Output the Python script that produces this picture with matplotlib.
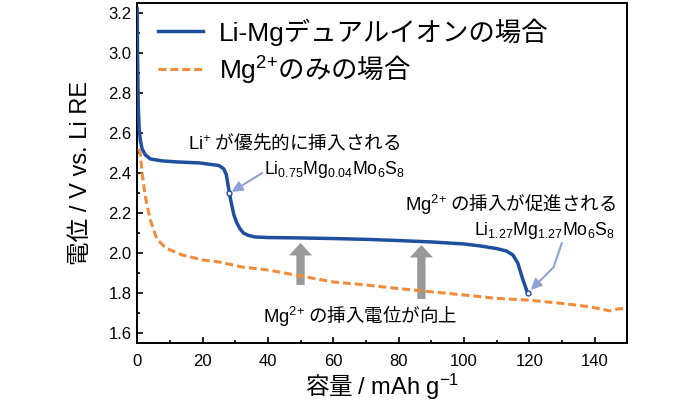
import matplotlib
matplotlib.use('Agg')
import matplotlib.pyplot as plt

# フォント設定
plt.rcParams['font.family'] = ['Liberation Sans', 'Noto Sans CJK JP']
plt.rcParams['mathtext.fontset'] = 'custom'
plt.rcParams['mathtext.rm'] = 'Liberation Sans'
plt.rcParams['mathtext.it'] = 'Liberation Sans:italic'
plt.rcParams['mathtext.bf'] = 'Liberation Sans:bold'
plt.rcParams['mathtext.default'] = 'rm'

JP = ['Noto Sans CJK JP']
BLUE = '#1f4f9f'
ORANGE = '#f08c3a'
POINTER = '#8fa2d4'
GRAY = '#999999'

# Li-Mgデュアルイオン
dual_cap = [0, 0.1, 0.3, 0.6, 1.0, 1.5, 2.5, 4, 7.6, 12, 19, 25, 26.5, 27.3,
            28, 28.8, 29.6, 30.5, 31.5, 32.5, 34, 36, 40, 50, 60, 70, 80, 90,
            100, 105, 110, 113, 115, 116.5, 118, 119.5]
dual_v = [3.22, 3.0, 2.75, 2.62, 2.56, 2.52, 2.49, 2.47, 2.46, 2.455, 2.45,
          2.437, 2.42, 2.39, 2.32, 2.25, 2.19, 2.15, 2.12, 2.10, 2.088, 2.08,
          2.077, 2.075, 2.072, 2.068, 2.062, 2.055, 2.045, 2.035, 2.022, 2.01,
          1.99, 1.95, 1.87, 1.80]

# Mg2+のみ
mg_cap = [0.5, 1.0, 1.5, 2.5, 4, 6, 8.7, 13.8, 20, 25, 32, 40, 50, 60, 70,
          80, 90, 100, 110, 120, 130, 138.5, 144.6, 147, 150]
mg_v = [2.52, 2.49, 2.40, 2.28, 2.165, 2.07, 2.025, 1.99, 1.965, 1.955, 1.93,
        1.915, 1.885, 1.855, 1.84, 1.822, 1.806, 1.79, 1.773, 1.764, 1.748,
        1.731, 1.711, 1.72, 1.723]

# 組成の点
mark_cap = [28.0, 119.5]
mark_v = [2.30, 1.80]

fig = plt.figure(figsize=(7, 4.04), dpi=100)
ax = fig.add_axes([0.196, 0.151, 0.70, 0.842])

ax.plot(dual_cap, dual_v, color=BLUE, lw=2.5, zorder=3,
        label='Li-Mgデュアルイオンの場合')
ax.plot(mg_cap, mg_v, color=ORANGE, lw=2.2, dashes=(2.6, 1.3), zorder=3,
        label=r'$\mathrm{Mg}^{2{+}}$のみの場合')
ax.plot(mark_cap, mark_v, 'o', ms=3.5, mfc='white', mec=BLUE, mew=1.0, zorder=4)

# 灰色の矢印（電位の向上）
for x0, y0, y1 in [(50, 1.84, 2.05), (87, 1.77, 2.04)]:
    ax.annotate('', xy=(x0, y1), xytext=(x0, y0),
                arrowprops=dict(arrowstyle='simple,head_length=0.9,head_width=1.66,tail_width=0.6',
                                mutation_scale=10, color=GRAY, lw=0,
                                shrinkA=0, shrinkB=0), zorder=2)

# 組成を指す矢印
ax.annotate('', xy=(28.9, 2.305), xytext=(38.3, 2.40),
            arrowprops=dict(arrowstyle='-|>,head_length=0.45,head_width=0.22',
                            mutation_scale=14, color=POINTER, lw=1.5,
                            shrinkA=0, shrinkB=0))
ax.annotate('', xy=(120.5, 1.815), xytext=(130.0, 2.05),
            arrowprops=dict(arrowstyle='-|>,head_length=0.45,head_width=0.22',
                            mutation_scale=14, color=POINTER, lw=1.5,
                            connectionstyle='angle,angleA=71,angleB=45,rad=0',
                            shrinkA=0, shrinkB=0))

ax.text(15.6, 2.515, r'$\mathrm{Li}^{{+}}$ が優先的に挿入される', fontsize=13.4, family=JP)
ax.text(82.0, 2.396, r'Li$_{0.75}$Mg$_{0.04}$Mo$_6$S$_8$', fontsize=12.8, ha='right')
ax.text(82.0, 2.21, r'$\mathrm{Mg}^{2{+}}$ の挿入が促進される', fontsize=13.3, family=JP)
ax.text(146.2, 2.088, r'Li$_{1.27}$Mg$_{1.27}$Mo$_6$S$_8$', fontsize=12.8, ha='right')
ax.text(38.5, 1.656, r'$\mathrm{Mg}^{2{+}}$ の挿入電位が向上', fontsize=13.3, family=JP)

ax.set_xlim(0, 150)
ax.set_ylim(1.55, 3.25)
ax.set_xticks(range(0, 141, 20))
ax.set_xticks(range(0, 151, 10), minor=True)
ax.set_yticks([1.6, 1.8, 2.0, 2.2, 2.4, 2.6, 2.8, 3.0, 3.2])
ax.set_yticks([1.6 + 0.1 * i for i in range(17)], minor=True)
ax.set_yticklabels(['1.6', '1.8', '2.0', '2.2', '2.4', '2.6', '2.8', '3.0', '3.2'])
ax.tick_params(which='both', direction='in', top=False, right=False,
               labelsize=12, width=1.2)
ax.tick_params(which='major', length=4)
ax.tick_params(which='minor', length=2.5)
ax.tick_params(axis='x', pad=8)
ax.tick_params(axis='y', pad=4)
for s in ax.spines.values():
    s.set_linewidth(1.4)

ax.set_xlabel(r'容量 $\mathrm{/\ mAh\ g}^{-1}$', fontsize=17, family=JP, labelpad=2)
ax.set_ylabel('電位 / V vs. Li RE', fontsize=17, labelpad=12)

leg = ax.legend(loc='upper left', bbox_to_anchor=(0.043, 0.955), frameon=False,
                fontsize=19, handlelength=1.7, handletextpad=0.6,
                borderpad=0, borderaxespad=0, labelspacing=0.3)
leg.get_texts()[1].set_fontfamily(JP)

fig.savefig('out.png', dpi=100)
